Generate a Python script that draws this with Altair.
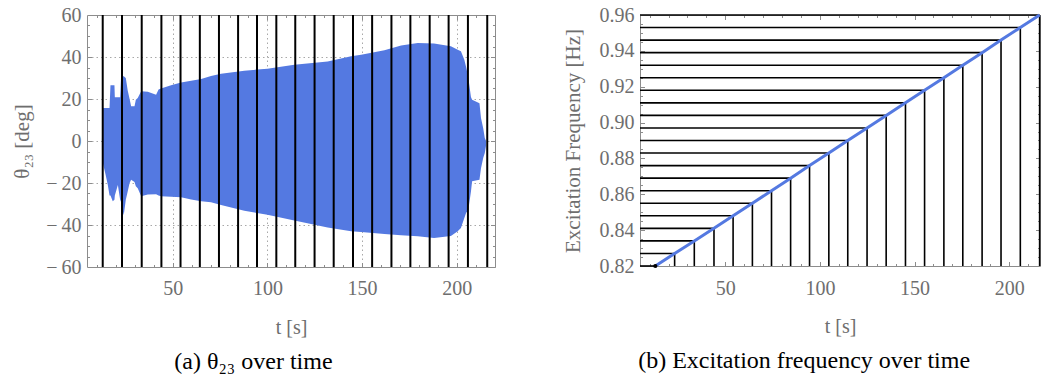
import altair as alt
import pandas as pd

# ---------------- data ----------------
# step schedule: time of each frequency step [s] and the excitation frequency [Hz]
step_times = [13.0, 23.2, 33.6, 44.0, 54.1, 64.3, 74.4, 84.5, 94.5, 104.7, 114.7,
              124.9, 135.0, 145.2, 155.3, 165.5, 175.5, 185.7, 195.7, 205.9, 216.1]
step_freqs = [0.820, 0.827, 0.834, 0.841, 0.848, 0.855, 0.862, 0.869, 0.876, 0.883,
              0.890, 0.897, 0.904, 0.911, 0.918, 0.925, 0.932, 0.939, 0.946, 0.953, 0.960]

# envelope of the fast theta_23 oscillation [deg]
env_t = [12.6, 13.2, 14.5, 15.7, 16.6, 17.1, 18.3, 19.2, 19.4, 21.0, 22.2, 22.7, 24.1,
         25.2, 26.2, 27.2, 28.0, 29.8, 30.5, 31.5, 33.3, 36.8, 41.2, 42.5, 43.8, 49.1,
         54.4, 59.7, 65.0, 70.2, 75.5, 87.8, 100.0, 114.2, 131.8, 144.2, 149.5, 161.8,
         170.6, 179.4, 188.0, 196.9, 200.5, 202.2, 204.0, 205.0, 206.0, 207.5, 208.1,
         212.0, 212.8, 214.0, 214.8, 215.5]
env_upper = [1.0, 15.7, 15.7, 15.7, 15.7, 26.5, 26.5, 26.5, 20.8, 20.8, 20.8, 30.8, 30.8,
             30.0, 24.0, 20.0, 16.5, 16.5, 19.7, 20.5, 23.7, 23.5, 22.0, 24.5, 25.0, 26.5,
             27.8, 28.7, 29.5, 31.0, 32.0, 33.5, 34.4, 36.3, 37.9, 40.3, 41.1, 43.2,
             45.5, 46.7, 46.4, 45.1, 43.5, 42.7, 38.7, 35.0, 30.8, 21.0, 19.7,
             18.0, 11.0, 6.0, 1.4, 0.0]
env_lower = [-4.0, -11.0, -16.0, -21.0, -26.0, -26.0, -28.7, -28.0, -26.0, -21.0, -28.0, -29.0, -35.4,
             -28.0, -24.0, -20.0, -18.4, -19.5, -21.6, -22.5, -26.3, -25.5, -25.3, -26.0, -26.3, -26.5,
             -26.8, -27.8, -28.7, -29.2, -30.5, -33.2, -35.1, -37.9, -41.2, -43.0, -43.3, -44.3,
             -44.9, -45.3, -46.2, -45.2, -43.0, -41.4, -36.7, -34.0, -33.5, -24.0, -19.2,
             -18.4, -13.0, -8.0, -5.7, -2.0]

# axis tick values
left_y_labels = [-60, -40, -20, 0, 20, 40, 60]
left_y_major = [-40, -20, 0, 20, 40]
left_y_minor = [-55, -50, -45, -35, -30, -25, -15, -10, -5, 5, 10, 15, 25, 30, 35, 45, 50, 55]
x_labels = [50, 100, 150, 200]
x_minor = [10, 20, 30, 40, 60, 70, 80, 90, 110, 120, 130, 140, 160, 170, 180, 190, 210, 220]
right_y_labels = [0.82, 0.84, 0.86, 0.88, 0.90, 0.92, 0.94, 0.96]
right_y_major = [0.84, 0.86, 0.88, 0.90, 0.92, 0.94]
right_y_minor = [0.825, 0.830, 0.835, 0.845, 0.850, 0.855, 0.865, 0.870, 0.875, 0.885, 0.890,
                 0.895, 0.905, 0.910, 0.915, 0.925, 0.930, 0.935, 0.945, 0.950, 0.955]

LEFT_X_DOMAIN = [4.7, 220.2]
RIGHT_X_DOMAIN = [4.9, 216.3]
LEFT_Y_DOMAIN = [-60, 60]
RIGHT_Y_DOMAIN = [0.82, 0.96]

# ---------------- styling ----------------
FONT = "Liberation Serif"
GRAY = "#6e6e6e"
FRAME = "#8c8c8c"
BLUE = "#5479e1"

env_df = pd.DataFrame({"t": env_t, "upper": env_upper, "lower": env_lower})
steps_df = pd.DataFrame({"t": step_times, "f": step_freqs})
steps_df["x0"] = RIGHT_X_DOMAIN[0]
steps_df["f0"] = RIGHT_Y_DOMAIN[0]


def tick_axis(orient, values, size):
    return alt.Axis(orient=orient, values=values, offset=-size, tickSize=size,
                    tickColor=FRAME, tickWidth=1, labels=False, domain=False,
                    grid=False, title="")


def tick_layers(data, xf, yf, xscale, yscale, xmaj, xmin_, ymaj, ymin_):
    out = []
    for xo, yo in [("bottom", "left"), ("top", "right")]:
        for xv, yv, s in [(xmaj, ymaj, 4.5), (xmin_, ymin_, 2.5)]:
            out.append(alt.Chart(data).mark_point(opacity=0).encode(
                x=alt.X(xf, type="quantitative", scale=xscale, axis=tick_axis(xo, xv, s)),
                y=alt.Y(yf, type="quantitative", scale=yscale, axis=tick_axis(yo, yv, s))))
    return out


def label_axis_x(values, pad):
    return alt.Axis(orient="bottom", values=values, ticks=False, tickSize=0, domain=False,
                    grid=False, labelFont=FONT, labelFontSize=20, labelColor=GRAY,
                    labelPadding=pad, format="d", title="t [s]", titleFont=FONT,
                    titleFontSize=20, titleFontWeight="normal", titleColor=GRAY,
                    titlePadding=20, minExtent=30, maxExtent=30)


def label_axis_y(values, title, tpad, fmt=None, expr=None):
    kw = dict(orient="left", values=values, ticks=False, tickSize=0, domain=False,
              grid=False, labelFont=FONT, labelFontSize=20, labelColor=GRAY,
              labelPadding=6, title=title, titleFont=FONT, titleFontSize=21,
              titleFontWeight="normal", titleColor=GRAY, titlePadding=tpad,
              minExtent=40, maxExtent=40)
    if fmt:
        kw["format"] = fmt
    if expr:
        kw["labelExpr"] = expr
    return alt.Axis(**kw)


def caption(text):
    return alt.TitleParams(text, orient="bottom", anchor="middle", frame="bounds", font=FONT,
                           fontSize=24, fontWeight="normal", color="black", offset=13)


# ---------------- left panel ----------------
xs_l = alt.Scale(domain=LEFT_X_DOMAIN, nice=False, zero=False)
ys_l = alt.Scale(domain=LEFT_Y_DOMAIN, nice=False, zero=False)

grid_l = alt.Chart(env_df).mark_point(opacity=0).encode(
    x=alt.X("t:Q", scale=xs_l, axis=alt.Axis(orient="bottom", values=x_labels, grid=True,
            gridColor="#a8a8a8", gridDash=[1.5, 3], gridWidth=1, ticks=False, labels=False,
            domain=False, title="")),
    y=alt.Y("upper:Q", scale=ys_l, axis=alt.Axis(orient="left", values=left_y_major, grid=True,
            gridColor="#a8a8a8", gridDash=[1.5, 3], gridWidth=1, ticks=False, labels=False,
            domain=False, title="")))

area_l = alt.Chart(env_df).mark_area(color=BLUE, opacity=1).encode(
    x=alt.X("t:Q", scale=xs_l, axis=label_axis_x(x_labels, 11)),
    y=alt.Y("upper:Q", scale=ys_l, axis=label_axis_y(
        left_y_labels, "θ₂₃ [deg]", 14.6,
        expr="datum.value < 0 ? '\u2212\u2009' + format(abs(datum.value), 'd') : format(datum.value, 'd')")),
    y2="lower:Q")

rules_l = alt.Chart(steps_df).mark_rule(color="black", strokeWidth=2).encode(
    x=alt.X("t:Q", scale=xs_l, axis=None))

left = alt.layer(
    grid_l, area_l, rules_l,
    *tick_layers(env_df, "t", "upper", xs_l, ys_l, x_labels, x_minor, left_y_major, left_y_minor)
).resolve_axis(x="independent", y="independent").properties(
    width=408, height=252, title=caption("(a) θ₂₃ over time"))

# ---------------- right panel ----------------
xs_r = alt.Scale(domain=RIGHT_X_DOMAIN, nice=False, zero=False)
ys_r = alt.Scale(domain=RIGHT_Y_DOMAIN, nice=False, zero=False)

hlines = alt.Chart(steps_df).mark_rule(color="black", strokeWidth=1.6).encode(
    x=alt.X("x0:Q", scale=xs_r, axis=None), x2="t:Q",
    y=alt.Y("f:Q", scale=ys_r, axis=None))
vlines = alt.Chart(steps_df).mark_rule(color="black", strokeWidth=1.6).encode(
    x=alt.X("t:Q", scale=xs_r, axis=None),
    y=alt.Y("f0:Q", scale=ys_r, axis=None), y2="f:Q")
line_r = alt.Chart(steps_df).mark_line(color=BLUE, strokeWidth=3).encode(
    x=alt.X("t:Q", scale=xs_r, axis=label_axis_x(x_labels, 12)),
    y=alt.Y("f:Q", scale=ys_r, axis=label_axis_y(right_y_labels, "Excitation Frequency [Hz]",
                                                 16.3, fmt=".2f")))
dot_r = alt.Chart(steps_df.iloc[:1]).mark_point(filled=True, color="black", size=18, opacity=1).encode(
    x=alt.X("t:Q", scale=xs_r, axis=None), y=alt.Y("f:Q", scale=ys_r, axis=None))

x_minor_r = [v for v in x_minor if v <= RIGHT_X_DOMAIN[1]]
right = alt.layer(
    hlines, vlines, line_r, dot_r,
    *tick_layers(steps_df, "t", "f", xs_r, ys_r, x_labels, x_minor_r, right_y_major, right_y_minor)
).resolve_axis(x="independent", y="independent").properties(
    width=400, height=251, title=caption("(b) Excitation frequency over time"))

chart = alt.hconcat(left, right, spacing=66).properties(
    padding={"left": 10, "top": 4, "right": 0, "bottom": 0}
).configure_view(stroke=FRAME, strokeWidth=1)

chart.save("out.html", embed_options={"renderer": "svg", "actions": False})
